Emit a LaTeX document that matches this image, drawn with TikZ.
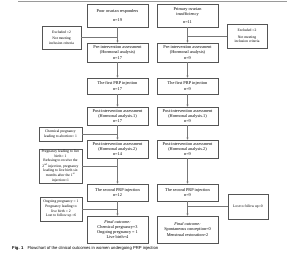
\documentclass[tikz,border=0pt]{standalone}
\usepackage{fontspec}
\setmainfont{Liberation Serif}
\setsansfont{Liberation Sans}
\usetikzlibrary{arrows.meta,positioning,calc}
\definecolor{BoxGray}{HTML}{555555}
\definecolor{LineGray}{HTML}{777777}
\definecolor{RuleGray}{HTML}{9A9A9A}

\begin{document}
\begin{tikzpicture}[x=1pt,y=-1pt,
    mainbox/.style={draw=BoxGray, line width=0.6pt, fill=white, minimum width=61pt, align=center, inner sep=1pt, font=\fontsize{4.3}{5.1}\selectfont},
    sidebox/.style={draw=BoxGray, line width=0.5pt, fill=white, align=center, inner sep=1pt, font=\fontsize{3.7}{4.6}\selectfont},
    arr/.style={-{Stealth[length=2.2pt,width=2.2pt]}, draw=LineGray, line width=0.4pt},
    link/.style={draw=LineGray, line width=0.4pt}
  ]
    \useasboundingbox (0,0) rectangle (300,257);
    \draw[RuleGray, line width=0.8pt] (18,1) -- (287,1);

    % poor ovarian responders
    \node[mainbox, minimum height=23pt] (porA) at (117.5,15.5) {Poor ovarian responders\\[3pt]n=19};
    \node[mainbox, minimum height=19pt] (porB) at (117.5,52.5) {Pre-intervention assessment\\(Hormonal analysis)\\n=17};
    \node[mainbox, minimum height=16pt] (porC) at (117.5,86) {The first PRP injection\\n=17};
    \node[mainbox, minimum height=18pt] (porD) at (117.5,116) {Post-intervention assessment\\(Hormonal analysis.1)\\n=17};
    \node[mainbox, minimum height=18pt] (porE) at (117.5,149) {Post-intervention assessment\\(Hormonal analysis.2)\\n=14};
    \node[mainbox, minimum height=17pt] (porF) at (117.5,192.5) {The second PRP injection\\n=12};
    \node[mainbox, minimum height=27pt] (porG) at (117.5,229.5) {\textit{Final outcome:}\\Chemical pregnancy=3\\Ongoing pregnancy = 1\\Live birth=4};

    \node[sidebox, minimum width=39pt, minimum height=23pt] (exPor) at (61.5,37.5) {Excluded =2\\[2pt]Not meeting\\inclusion criteria};
    \node[sidebox, minimum width=43pt, minimum height=14pt] (chemPor) at (60.5,134) {Chemical pregnancy\\leading to abortion= 1};
    \node[sidebox, minimum width=43pt, minimum height=34pt] (livePor) at (60.5,166) {Pregnancy leading to live\\birth= 1\\Refusing to receive the\\2\textsuperscript{nd} injection, pregnancy\\leading to live birth six\\months after the 1\textsuperscript{st}\\injection=1};
    \node[sidebox, minimum width=42pt, minimum height=24pt] (ongPor) at (61,209) {Ongoing pregnancy = 1\\Pregnancy leading to\\live birth = 2\\Lost to follow up =6};

    % primary ovarian insufficiency
    \node[mainbox, minimum height=23pt] (poiA) at (187.5,15.5) {Primary ovarian\\insufficiency\\[3pt]n=11};
    \node[mainbox, minimum height=19pt] (poiB) at (187.5,52.5) {Pre-intervention assessment\\(Hormonal analysis)\\n=9};
    \node[mainbox, minimum height=16pt] (poiC) at (187.5,86) {The first PRP injection\\n=9};
    \node[mainbox, minimum height=18pt] (poiD) at (187.5,116) {Post-intervention assessment\\(Hormonal analysis.1)\\n=9};
    \node[mainbox, minimum height=18pt] (poiE) at (187.5,149) {Post-intervention assessment\\(Hormonal analysis.2)\\n=9};
    \node[mainbox, minimum height=17pt] (poiF) at (187.5,192.5) {The second PRP injection\\n=9};
    \node[mainbox, minimum height=27pt] (poiG) at (187.5,229.5) {\textit{Final outcome:}\\Spontaneous conception=0\\Menstrual restoration=2};

    \node[sidebox, minimum width=40pt, minimum height=24pt] (exPoi) at (247,36) {Excluded =2\\[2pt]Not meeting\\inclusion criteria};
    \node[sidebox, minimum width=40pt, minimum height=25pt] (lostPoi) at (248,206.5) {Lost to follow up=0};

    \foreach \a/\b in {porA/porB,porB/porC,porC/porD,porD/porE,porE/porF,porF/porG,
                       poiA/poiB,poiB/poiC,poiC/poiD,poiD/poiE,poiE/poiF,poiF/poiG}
      \draw[arr] (\a) -- (\b);

    \draw[link] (exPor.east) -- (exPor.east -| porA);
    \draw[link] (chemPor.east) -- (chemPor.east -| porD);
    \draw[link] (livePor.east) -- (livePor.east -| porE);
    \draw[link] (ongPor.east) -- (ongPor.east -| porF);
    \draw[link] (exPoi.west) -- (exPoi.west -| poiA);
    \draw[link] (lostPoi.west) -- (lostPoi.west -| poiF);

    \node[anchor=west, font=\sffamily\fontsize{4.2}{5}\selectfont, inner sep=0pt] (cap) at (12,248) {\textbf{Fig. 1}\hspace{4pt}Flowchart of the clinical outcomes in women undergoing PRP injection};
\end{tikzpicture}
\end{document}
